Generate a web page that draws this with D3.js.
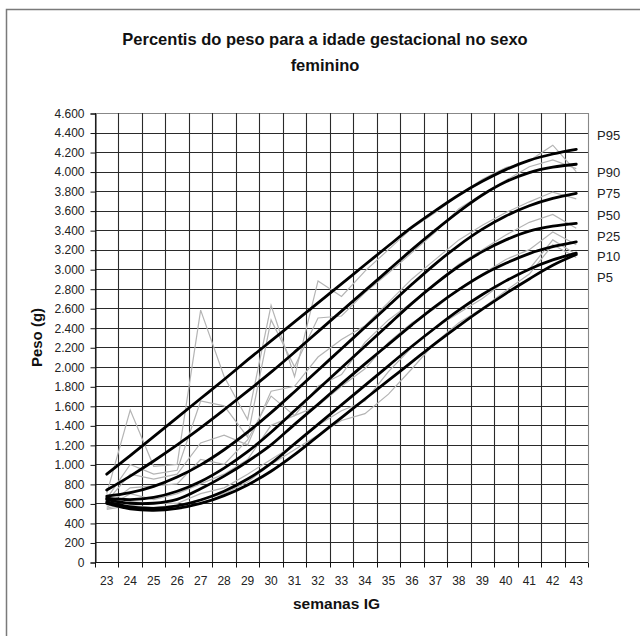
<!DOCTYPE html>
<html>
<head>
  <meta charset="utf-8">
  <script src="https://cdn.jsdelivr.net/npm/d3@7"></script>
  <style>
    body { margin: 0; background: #fff; }
    text { font-family: Arial, "Liberation Sans", sans-serif; }
  </style>
</head>
<body>
<div id="viz"></div>
<script>
// semanas de idade gestacional (categorias do eixo x)
var weeks = [23, 24, 25, 26, 27, 28, 29, 30, 31, 32, 33, 34, 35, 36, 37, 38, 39, 40, 41, 42, 43];
var yTicks = [0, 200, 400, 600, 800, 1000, 1200, 1400, 1600, 1800, 2000, 2200, 2400, 2600, 2800, 3000, 3200, 3400, 3600, 3800, 4000, 4200, 4400, 4600];

// percentis suavizados (linhas pretas)
var p95 = [900, 1090, 1285, 1480, 1675, 1870, 2070, 2265, 2460, 2655, 2850, 3045, 3240, 3430, 3600, 3760, 3900, 4020, 4115, 4180, 4228];
var p90 = [737, 880, 1035, 1200, 1375, 1560, 1750, 1945, 2150, 2360, 2570, 2780, 2990, 3200, 3400, 3590, 3760, 3895, 3990, 4045, 4075];
var p75 = [675, 710, 775, 870, 995, 1150, 1330, 1530, 1745, 1965, 2185, 2405, 2625, 2845, 3055, 3245, 3410, 3545, 3650, 3725, 3777];
var p50 = [655, 640, 662, 725, 825, 962, 1130, 1330, 1550, 1770, 1990, 2210, 2430, 2650, 2850, 3030, 3180, 3300, 3390, 3440, 3470];
var p25 = [640, 602, 602, 642, 750, 880, 1030, 1200, 1410, 1615, 1825, 2030, 2230, 2430, 2620, 2790, 2940, 3060, 3160, 3230, 3280];
var p10 = [615, 565, 550, 575, 635, 725, 850, 1010, 1210, 1410, 1610, 1810, 2010, 2210, 2400, 2580, 2740, 2880, 3000, 3095, 3165];
var p5  = [600, 545, 530, 550, 600, 680, 790, 930, 1100, 1290, 1480, 1670, 1860, 2050, 2240, 2420, 2590, 2750, 2900, 3040, 3150];

// percentis observados (linhas cinzentas)
var raw95 = [700, 1557, 980, 1000, 2580, 1900, 1460, 2630, 1900, 2880, 2720, 2980, 3200, 3420, 3580, 3760, 3920, 4040, 4110, 4270, 4000];
var raw90 = [650, 1000, 900, 940, 1650, 1600, 1280, 2480, 2000, 2500, 2520, 2760, 2960, 3170, 3380, 3620, 3770, 3910, 4050, 4120, 4030];
var raw75 = [620, 900, 850, 900, 1220, 1300, 1200, 1750, 1800, 2100, 2280, 2420, 2660, 2900, 3100, 3300, 3450, 3580, 3690, 3790, 3720];
var raw50 = [580, 760, 780, 800, 1050, 1000, 1250, 1700, 1500, 1800, 1920, 2250, 2480, 2660, 2860, 3050, 3200, 3350, 3480, 3560, 3420];
var raw25 = [560, 700, 640, 700, 800, 900, 1050, 1400, 1500, 1600, 1800, 1980, 2250, 2450, 2600, 2800, 2950, 3100, 3200, 3380, 3250];
var raw10 = [550, 620, 600, 600, 700, 760, 900, 1050, 1200, 1400, 1550, 1650, 1950, 2200, 2400, 2550, 2700, 2880, 3000, 3300, 3150];
var raw5  = [540, 580, 560, 580, 640, 700, 820, 1000, 1150, 1300, 1450, 1520, 1720, 1980, 2250, 2450, 2600, 2780, 2950, 3250, 3120];

var labels = ["P95", "P90", "P75", "P50", "P25", "P10", "P5"];
var labelAt = [4375, 3995, 3780, 3555, 3340, 3135, 2920];

var smooth = [p95, p90, p75, p50, p25, p10, p5];
var raw = [raw95, raw90, raw75, raw50, raw25, raw10, raw5];

var W = 640, H = 636;
var svg = d3.select("#viz").append("svg")
    .attr("width", W)
    .attr("height", H);

// moldura do gráfico
svg.append("rect")
    .attr("x", 6.5).attr("y", 9.5)
    .attr("width", W + 10).attr("height", H + 10)
    .attr("fill", "#fff")
    .attr("stroke", "#7a7a7a")
    .attr("stroke-width", 1.5);

var plotL = 95, plotR = 588, plotT = 113, plotB = 562;

var x = d3.scaleBand().domain(weeks).range([plotL, plotR]);
var y = d3.scaleLinear().domain([0, 4600]).range([plotB, plotT]);
var cx = function(w) { return x(w) + x.bandwidth() / 2; };

// grelha
var grid = svg.append("g");
grid.selectAll("line.h").data(yTicks).enter().append("line")
    .attr("x1", plotL).attr("x2", plotR)
    .attr("y1", function(d) { return Math.round(y(d)) + 0.5; })
    .attr("y2", function(d) { return Math.round(y(d)) + 0.5; })
    .attr("stroke", function(d) { return d == 4600 ? "#888" : "#2a2a2a"; })
    .attr("stroke-width", 1.1);
var edges = weeks.map(function(w) { return x(w); }).concat([plotR]);
grid.selectAll("line.v").data(edges).enter().append("line")
    .attr("x1", function(d) { return Math.round(d) + 0.5; })
    .attr("x2", function(d) { return Math.round(d) + 0.5; })
    .attr("y1", plotT).attr("y2", plotB)
    .attr("stroke", function(d, i) { return i == edges.length - 1 ? "#888" : "#2a2a2a"; })
    .attr("stroke-width", 1.1);

// eixo y
var yAxis = d3.axisLeft(y)
    .tickValues(yTicks)
    .tickSize(5)
    .tickFormat(function(d) { return d3.format(",")(d).replace(/,/g, "."); });
var gy = svg.append("g")
    .attr("transform", "translate(" + (plotL + 0.5) + ",0.5)")
    .call(yAxis);
gy.selectAll("line, path").attr("stroke", "#111");
gy.selectAll("text")
    .attr("x", -11)
    .attr("fill", "#222")
    .style("font-size", "12px");

// eixo x
var gx = svg.append("g")
    .attr("transform", "translate(0," + (plotB + 0.5) + ")");
gx.append("line")
    .attr("x1", plotL).attr("x2", plotR)
    .attr("stroke", "#111");
gx.selectAll("line.t").data(edges).enter().append("line")
    .attr("x1", function(d) { return Math.round(d) + 0.5; })
    .attr("x2", function(d) { return Math.round(d) + 0.5; })
    .attr("y1", 0).attr("y2", 5)
    .attr("stroke", "#111");
gx.selectAll("text").data(weeks).enter().append("text")
    .attr("x", function(d) { return cx(d); })
    .attr("y", 22)
    .attr("text-anchor", "middle")
    .attr("fill", "#222")
    .style("font-size", "12px")
    .text(function(d) { return d; });

// linhas observadas (cinza)
var rawLine = d3.line()
    .x(function(d, i) { return cx(weeks[i]); })
    .y(function(d) { return y(d); });
svg.append("g").selectAll("path").data(raw).enter().append("path")
    .attr("d", rawLine)
    .attr("fill", "none")
    .attr("stroke", "#b4b4b4")
    .attr("stroke-width", 1.2);

// percentis suavizados (preto)
var smoothLine = d3.line()
    .curve(d3.curveCatmullRom.alpha(0.5))
    .x(function(d, i) { return cx(weeks[i]); })
    .y(function(d) { return y(d); });
svg.append("g").selectAll("path").data(smooth).enter().append("path")
    .attr("d", smoothLine)
    .attr("fill", "none")
    .attr("stroke", "#000")
    .attr("stroke-width", 2.8)
    .attr("stroke-linecap", "round");

// rótulos dos percentis
svg.append("g").selectAll("text").data(labels).enter().append("text")
    .attr("x", 597)
    .attr("y", function(d, i) { return y(labelAt[i]); })
    .attr("dy", "0.36em")
    .attr("fill", "#222")
    .style("font-size", "13px")
    .text(function(d) { return d; });

// títulos
var title = svg.append("text")
    .attr("text-anchor", "middle")
    .attr("fill", "#111")
    .style("font-size", "16.5px")
    .style("font-weight", "bold");
title.append("tspan").attr("x", 325).attr("y", 45).text("Percentis do peso para a idade gestacional no sexo");
title.append("tspan").attr("x", 325).attr("y", 71).text("feminino");

svg.append("text")
    .attr("x", (plotL + plotR) / 2 - 5)
    .attr("y", 609)
    .attr("text-anchor", "middle")
    .attr("fill", "#111")
    .style("font-size", "15.5px")
    .style("font-weight", "bold")
    .text("semanas IG");

svg.append("text")
    .attr("transform", "translate(42," + ((plotT + plotB) / 2) + ") rotate(-90)")
    .attr("text-anchor", "middle")
    .attr("fill", "#111")
    .style("font-size", "15px")
    .style("font-weight", "bold")
    .text("Peso (g)");
</script>
</body>
</html>
